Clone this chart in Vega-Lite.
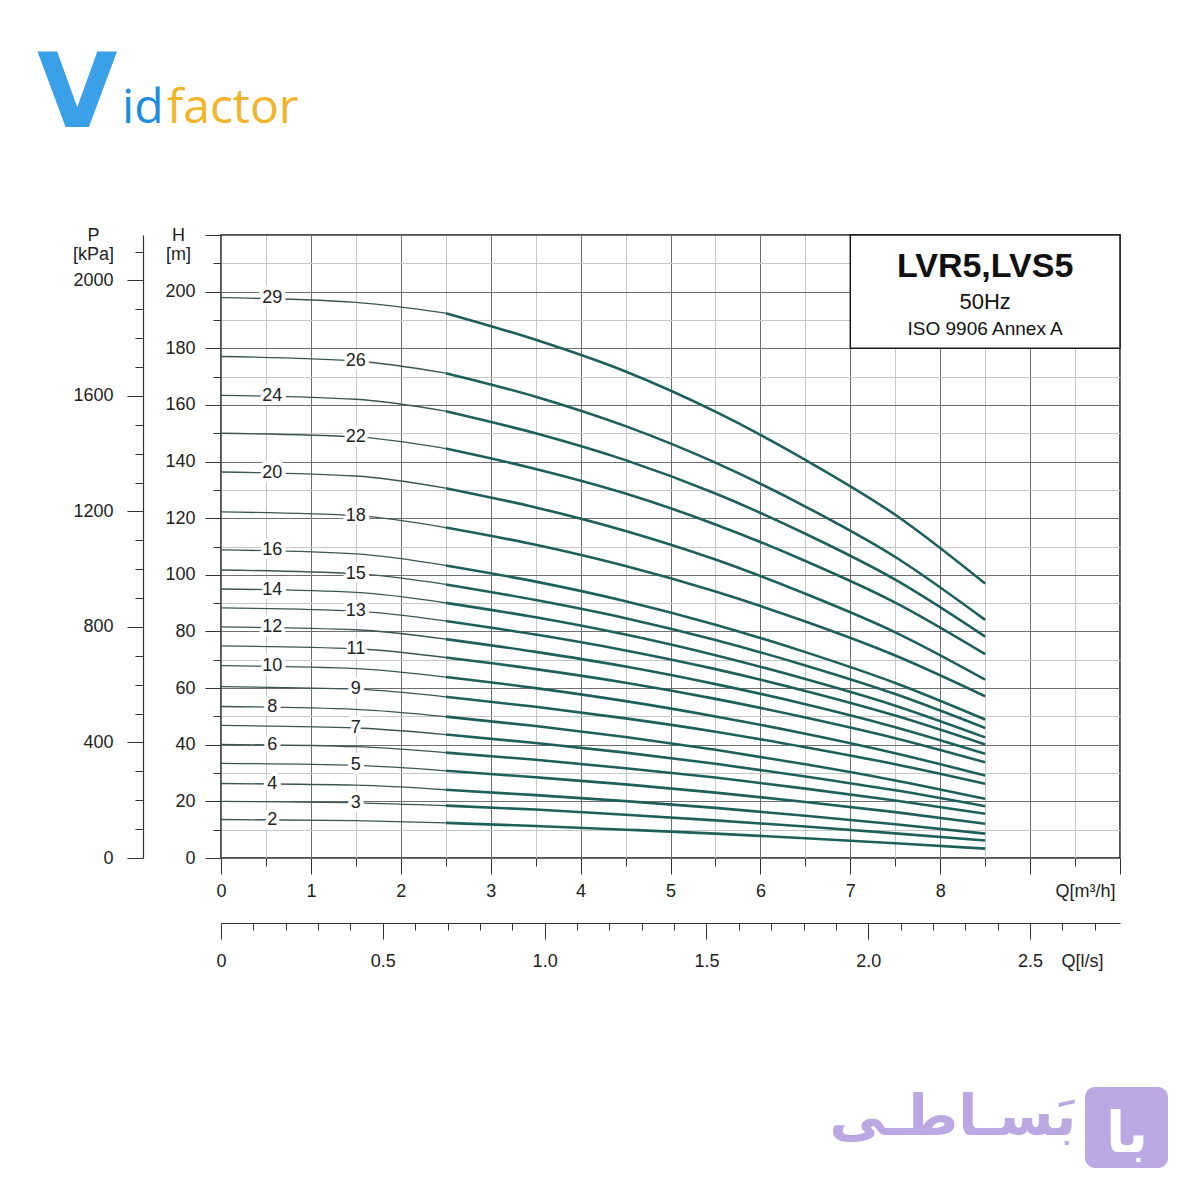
{
  "$schema": "https://vega.github.io/schema/vega-lite/v6.json",
  "width": 899,
  "height": 623,
  "autosize": "none",
  "padding": {"left": 221, "top": 235, "right": 80, "bottom": 342},
  "background": "white",
  "config": {
    "view": {"stroke": "#1a1a1a", "strokeWidth": 1.5},
    "font": "Liberation Sans",
    "axis": {
      "labelFont": "Liberation Sans", "labelFontSize": 18, "labelColor": "#222",
      "titleFont": "Liberation Sans", "titleFontSize": 18, "titleFontWeight": "normal", "titleColor": "#222",
      "tickColor": "#333", "tickWidth": 1, "domainColor": "#333", "domainWidth": 1.2,
      "labelOverlap": false, "labelFlush": false, "labelBound": false
    }
  },
  "datasets": {
    "curves": [
      {"stage":2,"Q":0,"H":13.6},{"stage":2,"Q":1.5,"H":13.2},{"stage":2,"Q":2.5,"H":12.4},{"stage":2,"Q":3.5,"H":11.3},{"stage":2,"Q":4.5,"H":10.0},{"stage":2,"Q":5.5,"H":8.6},{"stage":2,"Q":6.5,"H":7.0},{"stage":2,"Q":7.5,"H":5.2},{"stage":2,"Q":8.5,"H":3.3},
      {"stage":3,"Q":0,"H":20.0},{"stage":3,"Q":1.5,"H":19.5},{"stage":3,"Q":2.5,"H":18.5},{"stage":3,"Q":3.5,"H":17.1},{"stage":3,"Q":4.5,"H":15.3},{"stage":3,"Q":5.5,"H":13.3},{"stage":3,"Q":6.5,"H":11.1},{"stage":3,"Q":7.5,"H":8.7},{"stage":3,"Q":8.5,"H":6.2},
      {"stage":4,"Q":0,"H":26.3},{"stage":4,"Q":1.5,"H":25.7},{"stage":4,"Q":2.5,"H":24.1},{"stage":4,"Q":3.5,"H":22.2},{"stage":4,"Q":4.5,"H":20.1},{"stage":4,"Q":5.5,"H":17.7},{"stage":4,"Q":6.5,"H":14.9},{"stage":4,"Q":7.5,"H":11.9},{"stage":4,"Q":8.5,"H":8.6},
      {"stage":5,"Q":0,"H":33.4},{"stage":5,"Q":1.5,"H":32.7},{"stage":5,"Q":2.5,"H":30.8},{"stage":5,"Q":3.5,"H":28.5},{"stage":5,"Q":4.5,"H":26.0},{"stage":5,"Q":5.5,"H":23.1},{"stage":5,"Q":6.5,"H":19.8},{"stage":5,"Q":7.5,"H":16.2},{"stage":5,"Q":8.5,"H":12.1},
      {"stage":6,"Q":0,"H":40.1},{"stage":6,"Q":1.5,"H":39.3},{"stage":6,"Q":2.5,"H":37.2},{"stage":6,"Q":3.5,"H":34.7},{"stage":6,"Q":4.5,"H":31.7},{"stage":6,"Q":5.5,"H":28.4},{"stage":6,"Q":6.5,"H":24.5},{"stage":6,"Q":7.5,"H":20.3},{"stage":6,"Q":8.5,"H":15.6},
      {"stage":7,"Q":0,"H":46.8},{"stage":7,"Q":1.5,"H":45.9},{"stage":7,"Q":2.5,"H":43.6},{"stage":7,"Q":3.5,"H":40.6},{"stage":7,"Q":4.5,"H":37.2},{"stage":7,"Q":5.5,"H":33.3},{"stage":7,"Q":6.5,"H":28.8},{"stage":7,"Q":7.5,"H":23.9},{"stage":7,"Q":8.5,"H":18.3},
      {"stage":8,"Q":0,"H":53.5},{"stage":8,"Q":1.5,"H":52.5},{"stage":8,"Q":2.5,"H":49.9},{"stage":8,"Q":3.5,"H":46.6},{"stage":8,"Q":4.5,"H":42.7},{"stage":8,"Q":5.5,"H":38.2},{"stage":8,"Q":6.5,"H":33.1},{"stage":8,"Q":7.5,"H":27.4},{"stage":8,"Q":8.5,"H":20.9},
      {"stage":9,"Q":0,"H":60.5},{"stage":9,"Q":1.5,"H":59.6},{"stage":9,"Q":2.5,"H":56.9},{"stage":9,"Q":3.5,"H":53.4},{"stage":9,"Q":4.5,"H":49.3},{"stage":9,"Q":5.5,"H":44.6},{"stage":9,"Q":6.5,"H":39.1},{"stage":9,"Q":7.5,"H":33.1},{"stage":9,"Q":8.5,"H":26.2},
      {"stage":10,"Q":0,"H":67.9},{"stage":10,"Q":1.5,"H":66.9},{"stage":10,"Q":2.5,"H":63.9},{"stage":10,"Q":3.5,"H":60.0},{"stage":10,"Q":4.5,"H":55.4},{"stage":10,"Q":5.5,"H":50.0},{"stage":10,"Q":6.5,"H":43.9},{"stage":10,"Q":7.5,"H":37.0},{"stage":10,"Q":8.5,"H":29.1},
      {"stage":11,"Q":0,"H":74.9},{"stage":11,"Q":1.5,"H":73.9},{"stage":11,"Q":2.5,"H":70.8},{"stage":11,"Q":3.5,"H":66.7},{"stage":11,"Q":4.5,"H":61.9},{"stage":11,"Q":5.5,"H":56.2},{"stage":11,"Q":6.5,"H":49.6},{"stage":11,"Q":7.5,"H":42.3},{"stage":11,"Q":8.5,"H":33.8},
      {"stage":12,"Q":0,"H":81.6},{"stage":12,"Q":1.5,"H":80.6},{"stage":12,"Q":2.5,"H":77.3},{"stage":12,"Q":3.5,"H":72.8},{"stage":12,"Q":4.5,"H":67.6},{"stage":12,"Q":5.5,"H":61.4},{"stage":12,"Q":6.5,"H":54.3},{"stage":12,"Q":7.5,"H":46.2},{"stage":12,"Q":8.5,"H":36.8},
      {"stage":13,"Q":0,"H":88.3},{"stage":13,"Q":1.5,"H":87.2},{"stage":13,"Q":2.5,"H":83.7},{"stage":13,"Q":3.5,"H":78.9},{"stage":13,"Q":4.5,"H":73.3},{"stage":13,"Q":5.5,"H":66.7},{"stage":13,"Q":6.5,"H":59.0},{"stage":13,"Q":7.5,"H":50.3},{"stage":13,"Q":8.5,"H":40.1},
      {"stage":14,"Q":0,"H":95.0},{"stage":14,"Q":1.5,"H":93.8},{"stage":14,"Q":2.5,"H":90.1},{"stage":14,"Q":3.5,"H":85.0},{"stage":14,"Q":4.5,"H":78.9},{"stage":14,"Q":5.5,"H":71.6},{"stage":14,"Q":6.5,"H":63.2},{"stage":14,"Q":7.5,"H":53.8},{"stage":14,"Q":8.5,"H":42.6},
      {"stage":15,"Q":0,"H":101.7},{"stage":15,"Q":1.5,"H":100.4},{"stage":15,"Q":2.5,"H":96.6},{"stage":15,"Q":3.5,"H":91.1},{"stage":15,"Q":4.5,"H":84.7},{"stage":15,"Q":5.5,"H":77.0},{"stage":15,"Q":6.5,"H":68.0},{"stage":15,"Q":7.5,"H":57.9},{"stage":15,"Q":8.5,"H":45.9},
      {"stage":16,"Q":0,"H":108.8},{"stage":16,"Q":1.5,"H":107.4},{"stage":16,"Q":2.5,"H":103.3},{"stage":16,"Q":3.5,"H":97.6},{"stage":16,"Q":4.5,"H":90.7},{"stage":16,"Q":5.5,"H":82.4},{"stage":16,"Q":6.5,"H":72.7},{"stage":16,"Q":7.5,"H":61.8},{"stage":16,"Q":8.5,"H":48.9},
      {"stage":18,"Q":0,"H":122.2},{"stage":18,"Q":1.5,"H":120.9},{"stage":18,"Q":2.5,"H":116.7},{"stage":18,"Q":3.5,"H":110.6},{"stage":18,"Q":4.5,"H":103.1},{"stage":18,"Q":5.5,"H":94.1},{"stage":18,"Q":6.5,"H":83.5},{"stage":18,"Q":7.5,"H":71.5},{"stage":18,"Q":8.5,"H":57.1},
      {"stage":20,"Q":0,"H":136.3},{"stage":20,"Q":1.5,"H":134.9},{"stage":20,"Q":2.5,"H":130.6},{"stage":20,"Q":3.5,"H":123.8},{"stage":20,"Q":4.5,"H":115.5},{"stage":20,"Q":5.5,"H":105.4},{"stage":20,"Q":6.5,"H":93.3},{"stage":20,"Q":7.5,"H":79.7},{"stage":20,"Q":8.5,"H":63.0},
      {"stage":22,"Q":0,"H":150.0},{"stage":22,"Q":1.5,"H":148.7},{"stage":22,"Q":2.5,"H":144.6},{"stage":22,"Q":3.5,"H":137.4},{"stage":22,"Q":4.5,"H":128.7},{"stage":22,"Q":5.5,"H":117.8},{"stage":22,"Q":6.5,"H":104.9},{"stage":22,"Q":7.5,"H":90.2},{"stage":22,"Q":8.5,"H":72.0},
      {"stage":24,"Q":0,"H":163.4},{"stage":24,"Q":1.5,"H":162.0},{"stage":24,"Q":2.5,"H":157.8},{"stage":24,"Q":3.5,"H":150.0},{"stage":24,"Q":4.5,"H":140.5},{"stage":24,"Q":5.5,"H":128.7},{"stage":24,"Q":6.5,"H":114.5},{"stage":24,"Q":7.5,"H":98.3},{"stage":24,"Q":8.5,"H":78.2},
      {"stage":26,"Q":0,"H":177.1},{"stage":26,"Q":1.5,"H":175.5},{"stage":26,"Q":2.5,"H":171.2},{"stage":26,"Q":3.5,"H":162.9},{"stage":26,"Q":4.5,"H":152.5},{"stage":26,"Q":5.5,"H":139.6},{"stage":26,"Q":6.5,"H":124.1},{"stage":26,"Q":7.5,"H":106.3},{"stage":26,"Q":8.5,"H":84.1},
      {"stage":29,"Q":0,"H":197.9},{"stage":29,"Q":1.5,"H":196.2},{"stage":29,"Q":2.5,"H":192.4},{"stage":29,"Q":3.5,"H":183.0},{"stage":29,"Q":4.5,"H":171.8},{"stage":29,"Q":5.5,"H":157.6},{"stage":29,"Q":6.5,"H":140.6},{"stage":29,"Q":7.5,"H":121.2},{"stage":29,"Q":8.5,"H":96.9}
    ],
    "labels": [
      {"stage":29,"Q":0.57,"H":197.7},{"stage":24,"Q":0.57,"H":163.2},{"stage":20,"Q":0.57,"H":136.1},{"stage":16,"Q":0.57,"H":108.6},{"stage":14,"Q":0.57,"H":94.8},{"stage":12,"Q":0.57,"H":81.4},{"stage":10,"Q":0.57,"H":67.7},{"stage":8,"Q":0.57,"H":53.3},{"stage":6,"Q":0.57,"H":39.9},{"stage":4,"Q":0.57,"H":26.1},{"stage":2,"Q":0.57,"H":13.5},
      {"stage":26,"Q":1.5,"H":175.5},{"stage":22,"Q":1.5,"H":148.7},{"stage":18,"Q":1.5,"H":120.9},{"stage":15,"Q":1.5,"H":100.4},{"stage":13,"Q":1.5,"H":87.2},{"stage":11,"Q":1.5,"H":73.9},{"stage":9,"Q":1.5,"H":59.6},{"stage":7,"Q":1.5,"H":45.9},{"stage":5,"Q":1.5,"H":32.7},{"stage":3,"Q":1.5,"H":19.5}
    ]
  },
  "layer": [
    {
      "data": {"name": "curves"},
      "transform": [{"filter": "datum.Q <= 2.5"}],
      "mark": {"type": "line", "interpolate": "monotone", "color": "#3b5553", "strokeWidth": 1.3},
      "encoding": {
        "x": {
          "field": "Q", "type": "quantitative",
          "scale": {"domain": [0, 10], "nice": false},
          "axis": {
            "orient": "bottom",
            "values": [0,0.5,1,1.5,2,2.5,3,3.5,4,4.5,5,5.5,6,6.5,7,7.5,8,8.5,9,9.5,10],
            "labelExpr": "datum.value % 1 === 0 && datum.value <= 8 ? format(datum.value, 'd') : ''",
            "tickSize": {"condition": {"test": "datum.value % 1 === 0", "value": 16}, "value": 8},
            "labelPadding": 8,
            "grid": true,
            "gridColor": {"condition": {"test": "datum.value % 1 === 0", "value": "#6e6e6e"}, "value": "#c6c6c6"},
            "gridWidth": 1,
            "domain": false,
            "title": "Q[m³/h]",
            "titleX": 894, "titleY": 38, "titleAlign": "right", "titleBaseline": "alphabetic"
          }
        },
        "y": {
          "field": "H", "type": "quantitative",
          "scale": {"domain": [0, 220], "nice": false},
          "axis": {
            "orient": "left",
            "values": [0,10,20,30,40,50,60,70,80,90,100,110,120,130,140,150,160,170,180,190,200,210,220],
            "labelExpr": "datum.value % 20 === 0 && datum.value <= 200 ? format(datum.value, 'd') : ''",
            "tickSize": {"condition": {"test": "datum.value % 20 === 0", "value": 16}, "value": 8},
            "labelPadding": 10,
            "grid": true,
            "gridColor": {"condition": {"test": "datum.value % 20 === 0", "value": "#6e6e6e"}, "value": "#c6c6c6"},
            "gridWidth": 1,
            "domain": false,
            "title": ["H", "[m]"],
            "titleAngle": 0, "titleAlign": "center", "titleBaseline": "top", "titleLineHeight": 19,
            "titleX": -43, "titleY": -9
          }
        },
        "detail": {"field": "stage", "type": "nominal"}
      }
    },
    {
      "data": {"name": "curves"},
      "transform": [{"filter": "datum.Q >= 2.5"}],
      "mark": {"type": "line", "interpolate": "monotone", "color": "#1d605b", "strokeWidth": 2.6},
      "encoding": {
        "x": {"field": "Q", "type": "quantitative", "scale": {"domain": [0, 10], "nice": false}, "axis": null},
        "y": {"field": "H", "type": "quantitative", "scale": {"domain": [0, 220], "nice": false}, "axis": null},
        "detail": {"field": "stage", "type": "nominal"}
      }
    },
    {
      "data": {"name": "labels"},
      "mark": {"type": "text", "fontSize": 18, "font": "Liberation Sans", "fill": "white", "stroke": "white", "strokeWidth": 8, "strokeJoin": "round", "baseline": "middle", "align": "center"},
      "encoding": {
        "x": {"field": "Q", "type": "quantitative", "scale": {"domain": [0, 10], "nice": false}, "axis": null},
        "y": {"field": "H", "type": "quantitative", "scale": {"domain": [0, 220], "nice": false}, "axis": null},
        "text": {"field": "stage", "type": "nominal"}
      }
    },
    {
      "data": {"name": "labels"},
      "mark": {"type": "text", "fontSize": 18, "font": "Liberation Sans", "color": "#222", "baseline": "middle", "align": "center"},
      "encoding": {
        "x": {"field": "Q", "type": "quantitative", "scale": {"domain": [0, 10], "nice": false}, "axis": null},
        "y": {"field": "H", "type": "quantitative", "scale": {"domain": [0, 220], "nice": false}, "axis": null},
        "text": {"field": "stage", "type": "nominal"}
      }
    },
    {
      "data": {"values": [{}]},
      "mark": {"type": "rect", "fill": "white", "stroke": "#1a1a1a", "strokeWidth": 1.5},
      "encoding": {
        "x": {"datum": 7, "type": "quantitative", "scale": {"domain": [0, 10], "nice": false}, "axis": null},
        "x2": {"datum": 10},
        "y": {"datum": 220, "type": "quantitative", "scale": {"domain": [0, 220], "nice": false}, "axis": null},
        "y2": {"datum": 180}
      }
    },
    {
      "data": {"values": [{}]},
      "mark": {"type": "text", "text": "LVR5,LVS5", "font": "Liberation Sans", "fontWeight": "bold", "fontSize": 34, "color": "#111", "align": "center", "baseline": "alphabetic"},
      "encoding": {
        "x": {"datum": 8.5, "type": "quantitative", "scale": {"domain": [0, 10], "nice": false}, "axis": null},
        "y": {"datum": 205.2, "type": "quantitative", "scale": {"domain": [0, 220], "nice": false}, "axis": null}
      }
    },
    {
      "data": {"values": [{}]},
      "mark": {"type": "text", "text": "50Hz", "font": "Liberation Sans", "fontSize": 22, "color": "#111", "align": "center", "baseline": "alphabetic"},
      "encoding": {
        "x": {"datum": 8.5, "type": "quantitative", "scale": {"domain": [0, 10], "nice": false}, "axis": null},
        "y": {"datum": 193.9, "type": "quantitative", "scale": {"domain": [0, 220], "nice": false}, "axis": null}
      }
    },
    {
      "data": {"values": [{}]},
      "mark": {"type": "text", "text": "ISO 9906 Annex A", "font": "Liberation Sans", "fontSize": 19, "color": "#111", "align": "center", "baseline": "alphabetic"},
      "encoding": {
        "x": {"datum": 8.5, "type": "quantitative", "scale": {"domain": [0, 10], "nice": false}, "axis": null},
        "y": {"datum": 184.7, "type": "quantitative", "scale": {"domain": [0, 220], "nice": false}, "axis": null}
      }
    },
    {
      "data": {"values": [{}]},
      "mark": {"type": "text", "text": "V", "font": "DejaVu Sans", "fontWeight": "bold", "fontSize": 104, "color": "#3aa0e8", "align": "center", "baseline": "alphabetic"},
      "encoding": {
        "x": {"datum": -1.6, "type": "quantitative", "scale": {"domain": [0, 10], "nice": false}, "axis": null},
        "y": {"datum": 258.1, "type": "quantitative", "scale": {"domain": [0, 220], "nice": false}, "axis": null}
      }
    },
    {
      "data": {"values": [{}]},
      "mark": {"type": "text", "text": "id", "font": "Open Sans", "fontSize": 48, "color": "#1b8ee0", "align": "left", "baseline": "alphabetic"},
      "encoding": {
        "x": {"datum": -1.101, "type": "quantitative", "scale": {"domain": [0, 10], "nice": false}, "axis": null},
        "y": {"datum": 259.6, "type": "quantitative", "scale": {"domain": [0, 220], "nice": false}, "axis": null}
      }
    },
    {
      "data": {"values": [{}]},
      "mark": {"type": "text", "text": "factor", "font": "Open Sans", "fontSize": 48, "color": "#f1b42a", "align": "left", "baseline": "alphabetic"},
      "encoding": {
        "x": {"datum": -0.6, "type": "quantitative", "scale": {"domain": [0, 10], "nice": false}, "axis": null},
        "y": {"datum": 259.6, "type": "quantitative", "scale": {"domain": [0, 220], "nice": false}, "axis": null}
      }
    },
    {
      "data": {"values": [{}]},
      "mark": {"type": "text", "text": "بَسـاطـی", "font": "DejaVu Sans", "fontWeight": "bold", "fontSize": 56, "color": "#bba8e2", "align": "center", "baseline": "alphabetic"},
      "encoding": {
        "x": {"datum": 8.142, "type": "quantitative", "scale": {"domain": [0, 10], "nice": false}, "axis": null},
        "y": {"datum": -97.8, "type": "quantitative", "scale": {"domain": [0, 220], "nice": false}, "axis": null}
      }
    },
    {
      "data": {"values": [{}]},
      "mark": {"type": "rect", "fill": "#bba8e2", "cornerRadius": 10},
      "encoding": {
        "x": {"datum": 9.611, "type": "quantitative", "scale": {"domain": [0, 10], "nice": false}, "axis": null},
        "x2": {"datum": 10.534},
        "y": {"datum": -80.9, "type": "quantitative", "scale": {"domain": [0, 220], "nice": false}, "axis": null},
        "y2": {"datum": -109.5}
      }
    },
    {
      "data": {"values": [{}]},
      "mark": {"type": "text", "text": "با", "font": "DejaVu Sans", "fontWeight": "bold", "fontSize": 56, "color": "white", "align": "center", "baseline": "alphabetic"},
      "encoding": {
        "x": {"datum": 10.078, "type": "quantitative", "scale": {"domain": [0, 10], "nice": false}, "axis": null},
        "y": {"datum": -103.8, "type": "quantitative", "scale": {"domain": [0, 220], "nice": false}, "axis": null}
      }
    },
    {
      "data": {"values": [{}]},
      "mark": {"type": "point", "opacity": 0},
      "encoding": {
        "x": {
          "datum": 0, "type": "quantitative",
          "scale": {"domain": [0, 2.7778], "nice": false},
          "axis": {
            "orient": "bottom", "offset": 65,
            "values": [0,0.1,0.2,0.3,0.4,0.5,0.6,0.7,0.8,0.9,1,1.1,1.2,1.3,1.4,1.5,1.6,1.7,1.8,1.9,2,2.1,2.2,2.3,2.4,2.5,2.6,2.7],
            "labelExpr": "abs(datum.value*2 - round(datum.value*2)) < 0.001 ? (datum.value === 0 ? '0' : format(datum.value, '.1f')) : ''",
            "tickSize": {"condition": {"test": "abs(datum.value*2 - round(datum.value*2)) < 0.001", "value": 16}, "value": 7},
            "labelPadding": 13,
            "grid": false,
            "domain": true,
            "title": "Q[l/s]",
            "titleX": 882, "titleY": 43, "titleAlign": "right", "titleBaseline": "alphabetic"
          }
        }
      }
    },
    {
      "data": {"values": [{}]},
      "mark": {"type": "point", "opacity": 0},
      "encoding": {
        "y": {
          "datum": 0, "type": "quantitative",
          "scale": {"domain": [0, 2157.5], "nice": false},
          "axis": {
            "orient": "left", "offset": 78,
            "values": [0,100,200,300,400,500,600,700,800,900,1000,1100,1200,1300,1400,1500,1600,1700,1800,1900,2000,2100],
            "labelExpr": "datum.value % 400 === 0 ? format(datum.value, 'd') : ''",
            "tickSize": {"condition": {"test": "datum.value % 400 === 0", "value": 16}, "value": 8},
            "labelPadding": 14,
            "grid": false,
            "domain": true,
            "title": ["P", "[kPa]"],
            "titleAngle": 0, "titleAlign": "center", "titleBaseline": "top", "titleLineHeight": 19,
            "titleX": -50, "titleY": -9
          }
        }
      }
    }
  ],
  "resolve": {"scale": {"x": "independent", "y": "independent"}, "axis": {"x": "independent", "y": "independent"}}
}
